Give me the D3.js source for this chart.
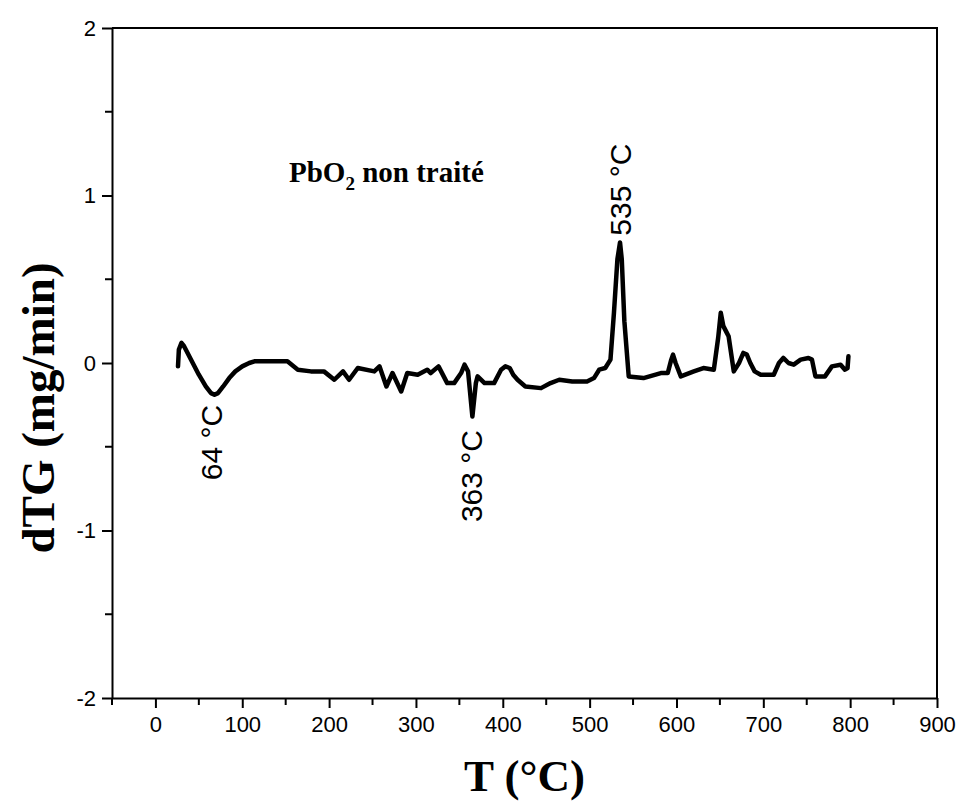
<!DOCTYPE html>
<html>
<head>
<meta charset="utf-8">
<script src="https://cdn.jsdelivr.net/npm/d3@7"></script>
<style>
  html, body { margin: 0; padding: 0; background: #fff; }
  svg { display: block; }
</style>
</head>
<body>
<svg id="chart" width="964" height="802"></svg>
<script>
// ---- data ----
const temperature = [26, 27, 30, 33, 40, 50, 58, 64, 68, 72, 78, 85, 92, 100, 108, 114, 135, 152, 164, 179, 194, 206, 216, 223, 233, 252, 258, 266, 273, 283, 290, 302, 313, 317, 326, 336, 344, 352, 356, 360, 365, 369, 371, 379, 390, 398, 403, 408, 412, 417, 426, 444, 455, 465, 480, 497, 505, 511, 518, 524, 528, 532, 535, 537, 540, 545, 562, 582, 590, 594, 596, 599, 605, 620, 631, 643, 648, 651, 654, 658, 660, 666, 672, 677, 681, 685, 690, 697, 712, 718, 723, 729, 735, 743, 752, 756, 760, 771, 779, 789, 794, 797, 798];
const dtg = [-0.02, 0.08, 0.12, 0.10, 0.03, -0.07, -0.14, -0.18, -0.19, -0.18, -0.14, -0.09, -0.05, -0.02, 0.0, 0.01, 0.01, 0.01, -0.04, -0.05, -0.05, -0.10, -0.05, -0.10, -0.03, -0.05, -0.02, -0.14, -0.06, -0.17, -0.06, -0.07, -0.04, -0.06, -0.02, -0.12, -0.12, -0.06, -0.01, -0.05, -0.32, -0.12, -0.08, -0.12, -0.12, -0.04, -0.02, -0.03, -0.07, -0.10, -0.14, -0.15, -0.12, -0.10, -0.11, -0.11, -0.09, -0.04, -0.03, 0.02, 0.30, 0.62, 0.72, 0.62, 0.25, -0.08, -0.09, -0.06, -0.06, 0.02, 0.05, 0.0, -0.08, -0.05, -0.03, -0.04, 0.15, 0.30, 0.22, 0.18, 0.16, -0.05, 0.0, 0.06, 0.05, 0.0, -0.05, -0.07, -0.07, 0.0, 0.03, 0.0, -0.01, 0.02, 0.03, 0.02, -0.08, -0.08, -0.02, -0.01, -0.04, -0.03, 0.04];
const xTicks = [0, 100, 200, 300, 400, 500, 600, 700, 800, 900];
const xMinorTicks = [-50, 50, 150, 250, 350, 450, 550, 650, 750, 850];
const yTicks = [-2, -1, 0, 1, 2];
const yMinorTicks = [-1.5, -0.5, 0.5, 1.5];
const peakTemps = [64, 363, 535];
const peakLabels = ["64 °C", "363 °C", "535 °C"];
const xTitle = "T (°C)";
const yTitle = "dTG (mg/min)";

// ---- layout ----
const svg = d3.select("#chart");
const mLeft = 112, mRight = 937, mTop = 28, mBottom = 698;
const x = d3.scaleLinear().domain([-50, 900]).range([mLeft, mRight]);
const y = d3.scaleLinear().domain([-2, 2]).range([mBottom, mTop]);

// frame lines (top & right)
svg.append("path")
  .attr("d", `M${mLeft},${mTop}H${mRight}V${mBottom}`)
  .attr("fill", "none").attr("stroke", "#000").attr("stroke-width", 2);

// x axis
const xAxis = svg.append("g").attr("transform", `translate(0,${mBottom})`)
  .call(d3.axisBottom(x).tickValues(xTicks).tickFormat(d => String(d))
    .tickSize(10).tickSizeOuter(0).tickPadding(8));
xAxis.append("g").selectAll("line").data(xMinorTicks).join("line")
  .attr("x1", d => x(d)).attr("x2", d => x(d)).attr("y1", 0).attr("y2", 7)
  .attr("stroke", "#000").attr("stroke-width", 2);

// y axis
const yAxis = svg.append("g").attr("transform", `translate(${mLeft},0)`)
  .call(d3.axisLeft(y).tickValues(yTicks).tickFormat(d => String(d))
    .tickSize(10).tickSizeOuter(0).tickPadding(6));
yAxis.append("g").selectAll("line").data(yMinorTicks).join("line")
  .attr("x1", 0).attr("x2", -7).attr("y1", d => y(d)).attr("y2", d => y(d))
  .attr("stroke", "#000").attr("stroke-width", 2);

[xAxis, yAxis].forEach(g => {
  g.select(".domain").attr("stroke-width", 2);
  g.selectAll(".tick line").attr("stroke-width", 2);
  g.selectAll(".tick text")
    .attr("font-family", "Liberation Sans, Arial, sans-serif")
    .attr("font-size", 22).attr("fill", "#000");
});

// curve
const data = temperature.map((t, i) => [t, dtg[i]]);
svg.append("path")
  .datum(data)
  .attr("fill", "none").attr("stroke", "#000")
  .attr("stroke-width", 4.5).attr("stroke-linejoin", "round").attr("stroke-linecap", "round")
  .attr("d", d3.line().x(d => x(d[0])).y(d => y(d[1])));

// peak labels (rotated)
const labelPos = [
  { anchor: "end", yv: -0.25, xoff: 11 },
  { anchor: "end", yv: -0.40, xoff: 11 },
  { anchor: "start", yv: 0.76, xoff: 11 }
];
peakTemps.forEach((t, i) => {
  const px = x(t) + labelPos[i].xoff, py = y(labelPos[i].yv);
  svg.append("text")
    .attr("transform", `translate(${px},${py}) rotate(-90)`)
    .attr("text-anchor", labelPos[i].anchor)
    .attr("font-family", "Liberation Sans, Arial, sans-serif")
    .attr("font-size", 30).attr("fill", "#000")
    .text(peakLabels[i]);
});

// sample annotation
const ann = svg.append("text")
  .attr("x", 289).attr("y", 182)
  .attr("font-family", "Liberation Serif, Times New Roman, serif")
  .attr("font-weight", "bold").attr("font-size", 29).attr("fill", "#000");
ann.append("tspan").text("PbO");
ann.append("tspan").attr("font-size", 19).attr("dy", 8).text("2");
ann.append("tspan").attr("dy", -8).text(" non traité");

// axis titles
svg.append("text")
  .attr("x", (mLeft + mRight) / 2).attr("y", 791)
  .attr("text-anchor", "middle")
  .attr("font-family", "Liberation Serif, Times New Roman, serif")
  .attr("font-weight", "bold").attr("font-size", 45).attr("fill", "#000")
  .text(xTitle);
svg.append("text")
  .attr("transform", `translate(54,${(mTop + mBottom) / 2 + 45}) rotate(-90)`)
  .attr("text-anchor", "middle")
  .attr("font-family", "Liberation Serif, Times New Roman, serif")
  .attr("font-weight", "bold").attr("font-size", 47).attr("fill", "#000")
  .text(yTitle);
</script>
</body>
</html>
